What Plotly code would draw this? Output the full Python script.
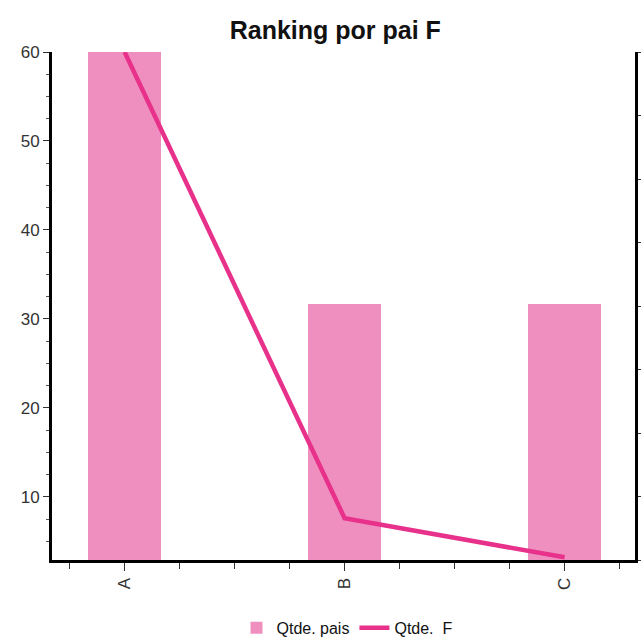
import plotly.graph_objects as go

categories = ["A", "B", "C"]
qtde_pais = [60, 31.7, 31.7]
qtde_f = [60, 7.6, 3.2]
y_ticks = [10, 20, 30, 40, 50, 60]

xpos = list(range(len(categories)))

fig = go.Figure()
fig.add_trace(go.Bar(x=xpos, y=qtde_pais, name="Qtde. pais", width=0.33,
                     marker=dict(color="#ef8fbf", line=dict(width=0))))
fig.add_trace(go.Scatter(x=xpos, y=qtde_f, name="Qtde.  F", mode="lines",
                         line=dict(color="#e8318a", width=4.5)))

fig.update_layout(
    width=641, height=642,
    margin=dict(l=52, r=6, t=52, b=82, autoexpand=False),
    paper_bgcolor="white", plot_bgcolor="white",
    font=dict(family="Liberation Sans, Arial, sans-serif", color="#222"),
    title=dict(text="<b>Ranking por pai F</b>", x=0.523, xanchor="center",
               y=0.953, yanchor="middle", font=dict(size=25, color="#111")),
    showlegend=True,
    legend=dict(orientation="h", x=0.506, xanchor="center", y=-0.1, yanchor="top",
                font=dict(size=16, color="#111"), itemwidth=30, tracegroupgap=0),
    bargap=0,
    xaxis=dict(range=[-0.33, 2.32], tickvals=xpos, ticktext=categories,
               tickangle=-90, showgrid=False, zeroline=False, automargin=False,
               showline=True, linecolor="black", linewidth=3,
               ticks="outside", ticklen=8, tickcolor="#333", tickwidth=1,
               tickfont=dict(size=17, color="#333"),
               minor=dict(dtick=0.25, tick0=0, ticks="outside", ticklen=6,
                          tickcolor="#333", tickwidth=1)),
    yaxis=dict(range=[2.9, 60], tickvals=y_ticks, showgrid=False, zeroline=False,
               automargin=False,
               showline=True, linecolor="black", linewidth=3,
               ticks="outside", ticklen=6, tickcolor="#333", tickwidth=1,
               tickfont=dict(size=17, color="#333"),
               minor=dict(dtick=2.5, tick0=0, ticks="outside", ticklen=3,
                          tickcolor="#555", tickwidth=1)),
    yaxis2=dict(overlaying="y", side="right", range=[0, 8], dtick=1,
                showticklabels=False, showgrid=False, zeroline=False,
                automargin=False,
                showline=True, linecolor="black", linewidth=3,
                ticks="outside", ticklen=5, tickcolor="#333"),
)
fig.add_trace(go.Scatter(x=[xpos[0]], y=[0], yaxis="y2", mode="markers",
                         marker=dict(opacity=0), showlegend=False, hoverinfo="skip"))

fig.write_html("out.html", config={"displayModeBar": False},
               post_script="document.body.style.margin='0';document.body.style.overflow='hidden';")
